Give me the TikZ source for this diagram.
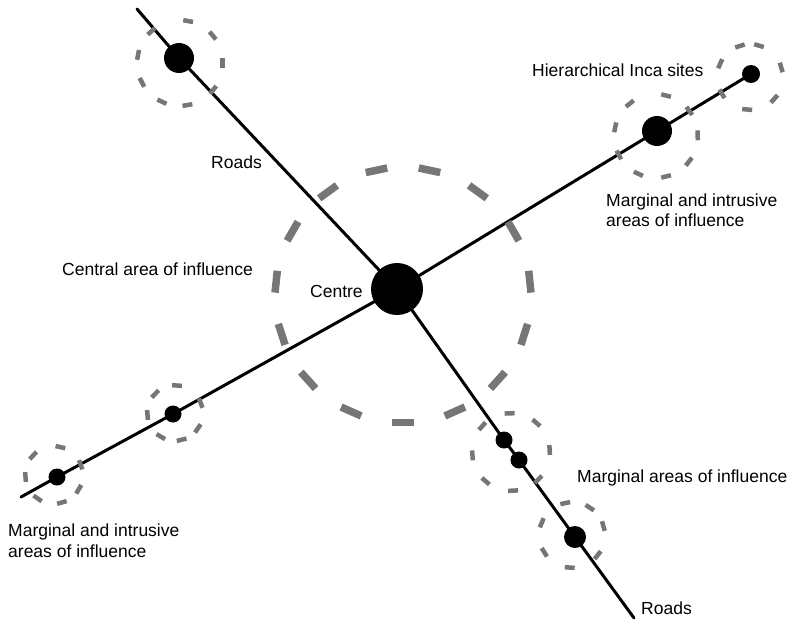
\documentclass[tikz,border=0pt]{standalone}
\usepackage{fontspec}
\setmainfont{Liberation Sans}
\definecolor{dashgray}{RGB}{118,118,118}
\newcommand\ringdashes[5]{%
  \pgfmathsetmacro\hdang{0.5*#3/#2*57.29578}%
  \foreach \a in {#5}{\draw[#4, shift={(#1)}] (\a-\hdang:#2) -- (\a+\hdang:#2);}%
}
\begin{document}
\begin{tikzpicture}[x=1pt,y=-1pt,
  road/.style={line width=3pt, draw=black, line cap=round, line join=round},
  site/.style={circle, fill=black, draw=none, inner sep=0pt, minimum size=#1},
  smalldash/.style={line width=4.5pt, draw=dashgray},
  bigdash/.style={line width=7.5pt, draw=dashgray},
  lbl/.style={anchor=base west, inner sep=0pt, font=\fontsize{17.5}{21}\selectfont}]
\useasboundingbox (0,0) rectangle (789,621);

% sites
\node[site=52pt] (centre) at (397,289) {};
\node[site=30pt] (nwsite) at (179,58) {};
\node[site=30pt] (nebig) at (657,131) {};
\node[site=18pt] (nesmall) at (751,74) {};
\node[site=17pt] (swnear) at (173,414) {};
\node[site=17pt] (swfar) at (57,477) {};
\node[site=17pt] (sea) at (504,440) {};
\node[site=17pt] (seb) at (519,460) {};
\node[site=22pt] (sebig) at (575,537) {};

% road ends
\coordinate (nwend) at (137,9);
\coordinate (seend) at (634,618);
\coordinate (swend) at (21,497);

% roads
\draw[road] (nwend) -- (nwsite.center) -- (centre.center) -- (sea.center) -- (seb.center) -- (sebig.center) -- (seend);
\draw[road] (swend) -- (swfar.center) -- (swnear.center) -- (centre.center) -- (nebig.center) -- (nesmall.center);

% ring centres
\coordinate (rcentral) at (403,295);
\coordinate (rnw) at (180,63);
\coordinate (rnebig) at (656,136);
\coordinate (rnesmall) at (750,77);
\coordinate (rswnear) at (175,413);
\coordinate (rswfar) at (54,475);
\coordinate (rsepair) at (511,452);
\coordinate (rsebig) at (572,535);

% dashed areas of influence
\ringdashes{rcentral}{128}{22}{bigdash}{90,114,...,426}
\ringdashes{rnw}{43}{10}{smalldash}{0,39,80,115,153,191,228,281,320}
\ringdashes{rnebig}{42}{10}{smalldash}{323,359,38,76,115,153,192,231,284}
\ringdashes{rnesmall}{33}{10}{smalldash}{204,252,286,343,42,95,149}
\ringdashes{rswnear}{28}{10}{smalldash}{274,224,176,121,76,34,339}
\ringdashes{rswfar}{29}{10}{smalldash}{283,223,176,125,74,30,339}
\ringdashes{rsepair}{39}{10}{smalldash}{268,311,357,45,87,131,175,222}
\ringdashes{rsebig}{33}{10}{smalldash}{258,303,344,38,94,148,202}

% labels
\node[lbl] (lhier) at (532,76.5) {Hierarchical Inca sites};
\node[lbl] (lroadtop) at (211,168) {Roads};
\node[lbl] (lmi1) at (606,206) {Marginal and intrusive};
\node[lbl] (lmi2) at (606,226) {areas of influence};
\node[lbl] (lcentral) at (62,275) {Central area of influence};
\node[lbl] (lcentre) at (310,297) {Centre};
\node[lbl] (lmarg) at (577,482) {Marginal areas of influence};
\node[lbl] (lmi3) at (8,536) {Marginal and intrusive};
\node[lbl] (lmi4) at (8,557) {areas of influence};
\node[lbl] (lroadbot) at (641,614) {Roads};
\end{tikzpicture}
\end{document}
